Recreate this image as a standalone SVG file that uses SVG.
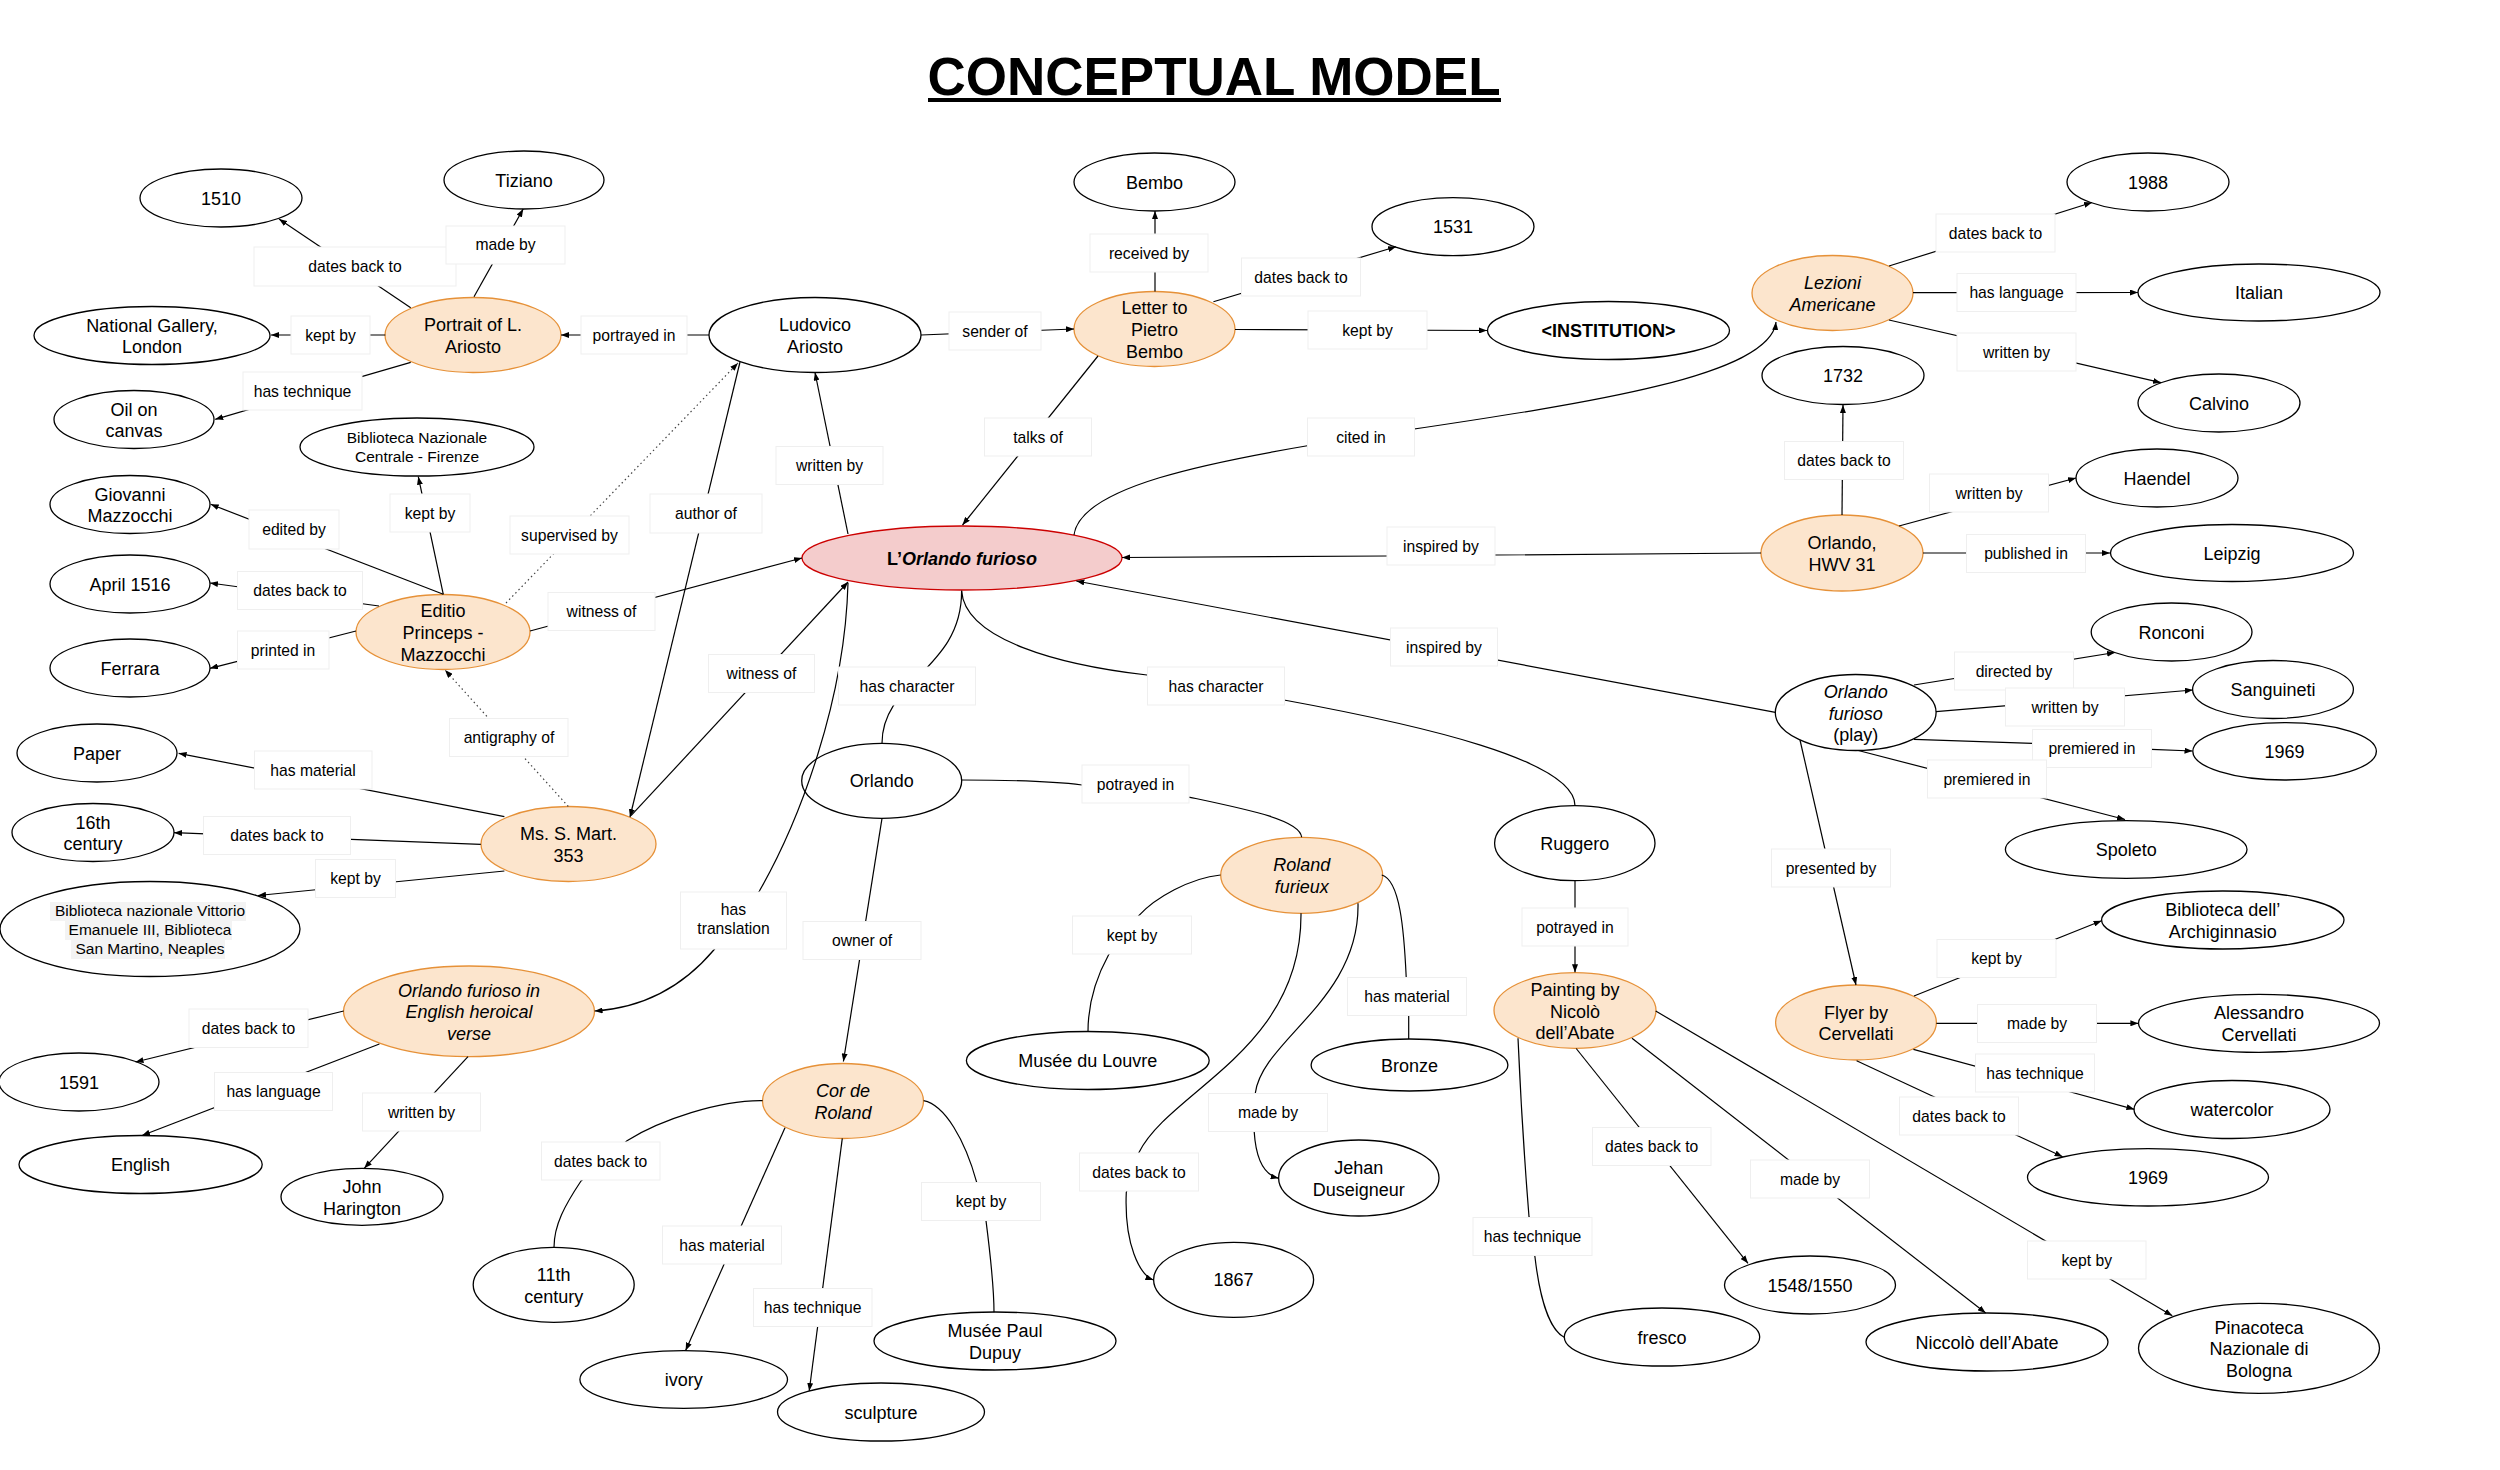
<svg xmlns="http://www.w3.org/2000/svg" width="2500" height="1470" viewBox="0 0 2500 1470">
<defs>
<style>
text{font-family:"Liberation Sans",Arial,sans-serif;fill:#000}
.node ellipse{fill:#fff;stroke:#000;stroke-width:1.3}
.node.o ellipse{fill:#fce5cd;stroke:#e69138}
.node.r ellipse{fill:#f4cccc;stroke:#cc0000}
.node text{font-size:18px;text-anchor:middle}
.node text.s{font-size:15.5px}
.it{font-style:italic}
.lb rect{fill:#fff;stroke:#efefef;stroke-width:1}
.lb text{font-size:15.7px;text-anchor:middle}
#connectors path{fill:none;stroke:#000;stroke-width:1.2}
#connectors path.a{marker-end:url(#ah)}
#connectors path.d{stroke:#444;stroke-dasharray:1.5 3}
</style>
<marker id="ah" viewBox="0 0 8 6" refX="8" refY="3" markerWidth="8" markerHeight="6" markerUnits="userSpaceOnUse" orient="auto"><path d="M0,0 L8,3 L0,6 z" fill="#000"/></marker>
</defs>
<rect width="2500" height="1470" fill="#fff"/>
<g id="title">
<text x="1214" y="95" font-size="53" font-weight="bold" text-anchor="middle">CONCEPTUAL MODEL</text>
<rect x="928" y="98" width="573" height="4" fill="#000"/>
</g>
<g id="nodes">
<g id="n-1510" class="node"><ellipse cx="221" cy="198" rx="81" ry="29"/><text x="221" y="204.5">1510</text></g>
<g id="n-tiziano" class="node"><ellipse cx="524" cy="180" rx="80" ry="29"/><text x="524" y="186.5">Tiziano</text></g>
<g id="n-portrait" class="node o"><ellipse cx="473" cy="335" rx="88" ry="37.5"/><text x="473" y="331">Portrait of L.</text><text x="473" y="352.7">Ariosto</text></g>
<g id="n-natgallery" class="node"><ellipse cx="152" cy="335.5" rx="118" ry="29"/><text x="152" y="331.5">National Gallery,</text><text x="152" y="353.2">London</text></g>
<g id="n-oil" class="node"><ellipse cx="134" cy="419.5" rx="80" ry="29"/><text x="134" y="415.5">Oil on</text><text x="134" y="437.2">canvas</text></g>
<g id="n-bnc" class="node"><ellipse cx="417" cy="447" rx="117" ry="29"/><text class="s" x="417" y="443.3">Biblioteca Nazionale</text><text class="s" x="417" y="462.3">Centrale - Firenze</text></g>
<g id="n-giovanni" class="node"><ellipse cx="130" cy="504.5" rx="80" ry="29"/><text x="130" y="500.5">Giovanni</text><text x="130" y="522.2">Mazzocchi</text></g>
<g id="n-april1516" class="node"><ellipse cx="130" cy="584" rx="80" ry="29"/><text x="130" y="590.5">April 1516</text></g>
<g id="n-editio" class="node o"><ellipse cx="443" cy="632" rx="87" ry="37.5"/><text x="443" y="617.3">Editio</text><text x="443" y="639">Princeps -</text><text x="443" y="660.7">Mazzocchi</text></g>
<g id="n-ferrara" class="node"><ellipse cx="130" cy="668" rx="80" ry="29"/><text x="130" y="674.5">Ferrara</text></g>
<g id="n-paper" class="node"><ellipse cx="97" cy="753" rx="80" ry="29"/><text x="97" y="759.5">Paper</text></g>
<g id="n-16th" class="node"><ellipse cx="93" cy="832.5" rx="81" ry="29"/><text x="93" y="828.5">16th</text><text x="93" y="850.2">century</text></g>
<g id="n-vittorio" class="node"><ellipse cx="150" cy="929" rx="150" ry="47.5"/><rect x="50" y="902" width="196" height="19" fill="#f3f3f3"/><rect x="65" y="921" width="167" height="19" fill="#f3f3f3"/><rect x="71" y="940" width="154" height="19" fill="#f3f3f3"/><text class="s" x="150" y="916">Biblioteca nazionale Vittorio</text><text class="s" x="150" y="935">Emanuele III, Biblioteca</text><text class="s" x="150" y="954">San Martino, Neaples</text></g>
<g id="n-ms" class="node o"><ellipse cx="568.5" cy="844" rx="87.5" ry="37.5"/><text x="568.5" y="840">Ms. S. Mart.</text><text x="568.5" y="861.7">353</text></g>
<g id="n-ludovico" class="node"><ellipse cx="815" cy="335" rx="106" ry="37.5"/><text x="815" y="331">Ludovico</text><text x="815" y="352.7">Ariosto</text></g>
<g id="n-bembo" class="node"><ellipse cx="1154.5" cy="182" rx="80.5" ry="29"/><text x="1154.5" y="188.5">Bembo</text></g>
<g id="n-letter" class="node o"><ellipse cx="1154.5" cy="329" rx="80.5" ry="37.5"/><text x="1154.5" y="314.3">Letter to</text><text x="1154.5" y="336">Pietro</text><text x="1154.5" y="357.7">Bembo</text></g>
<g id="n-1531" class="node"><ellipse cx="1453" cy="226.7" rx="81" ry="29"/><text x="1453" y="233.2">1531</text></g>
<g id="n-institution" class="node"><ellipse cx="1608.5" cy="330.5" rx="121" ry="29"/><text x="1608.5" y="337" font-weight="bold">&lt;INSTITUTION&gt;</text></g>
<g id="n-orlandofurioso" class="node r"><ellipse cx="962" cy="558" rx="160" ry="32"/><text x="962" y="564.5" font-weight="bold">L’<tspan class="it">Orlando furioso</tspan></text></g>
<g id="n-lezioni" class="node o"><ellipse cx="1832.5" cy="293" rx="80.5" ry="37.5"/><text class="it" x="1832.5" y="289">Lezioni</text><text class="it" x="1832.5" y="310.7">Americane</text></g>
<g id="n-1988" class="node"><ellipse cx="2148" cy="182" rx="81" ry="29"/><text x="2148" y="188.5">1988</text></g>
<g id="n-italian" class="node"><ellipse cx="2259" cy="292.5" rx="121" ry="28.5"/><text x="2259" y="299">Italian</text></g>
<g id="n-calvino" class="node"><ellipse cx="2219" cy="403" rx="81" ry="29"/><text x="2219" y="409.5">Calvino</text></g>
<g id="n-1732" class="node"><ellipse cx="1843" cy="375.5" rx="81" ry="29"/><text x="1843" y="382">1732</text></g>
<g id="n-haendel" class="node"><ellipse cx="2157" cy="478" rx="81" ry="29"/><text x="2157" y="484.5">Haendel</text></g>
<g id="n-hwv" class="node o"><ellipse cx="1842" cy="553" rx="81" ry="38"/><text x="1842" y="549">Orlando,</text><text x="1842" y="570.7">HWV 31</text></g>
<g id="n-leipzig" class="node"><ellipse cx="2232" cy="553" rx="121.5" ry="28.5"/><text x="2232" y="559.5">Leipzig</text></g>
<g id="n-ronconi" class="node"><ellipse cx="2171.6" cy="632" rx="80.4" ry="29"/><text x="2171.6" y="638.5">Ronconi</text></g>
<g id="n-sanguineti" class="node"><ellipse cx="2273" cy="689.5" rx="80.4" ry="29"/><text x="2273" y="696">Sanguineti</text></g>
<g id="n-play" class="node"><ellipse cx="1855.7" cy="712.5" rx="80.4" ry="38"/><text class="it" x="1855.7" y="697.8">Orlando</text><text class="it" x="1855.7" y="719.5">furioso</text><text x="1855.7" y="741.2">(play)</text></g>
<g id="n-1969play" class="node"><ellipse cx="2284.6" cy="751.3" rx="91.8" ry="28.7"/><text x="2284.6" y="757.8">1969</text></g>
<g id="n-spoleto" class="node"><ellipse cx="2126.2" cy="849.5" rx="120.8" ry="28.8"/><text x="2126.2" y="856">Spoleto</text></g>
<g id="n-orlando" class="node"><ellipse cx="881.7" cy="780.8" rx="80" ry="37.5"/><text x="881.7" y="787.3">Orlando</text></g>
<g id="n-ruggero" class="node"><ellipse cx="1574.8" cy="843.2" rx="80.2" ry="37.5"/><text x="1574.8" y="849.7">Ruggero</text></g>
<g id="n-roland" class="node o"><ellipse cx="1301.7" cy="875.3" rx="81" ry="38"/><text class="it" x="1301.7" y="871.3">Roland</text><text class="it" x="1301.7" y="893">furieux</text></g>
<g id="n-archiginnasio" class="node"><ellipse cx="2222.8" cy="920" rx="121.2" ry="29"/><text x="2222.8" y="916">Biblioteca dell’</text><text x="2222.8" y="937.7">Archiginnasio</text></g>
<g id="n-flyer" class="node o"><ellipse cx="1856" cy="1022.5" rx="80.4" ry="37.5"/><text x="1856" y="1018.5">Flyer by</text><text x="1856" y="1040.2">Cervellati</text></g>
<g id="n-alessandro" class="node"><ellipse cx="2259" cy="1023.3" rx="120.5" ry="29"/><text x="2259" y="1019.3">Alessandro</text><text x="2259" y="1041">Cervellati</text></g>
<g id="n-watercolor" class="node"><ellipse cx="2232" cy="1109.5" rx="98" ry="29"/><text x="2232" y="1116">watercolor</text></g>
<g id="n-1969flyer" class="node"><ellipse cx="2148" cy="1177.3" rx="120.5" ry="28.7"/><text x="2148" y="1183.8">1969</text></g>
<g id="n-painting" class="node o"><ellipse cx="1575" cy="1010.5" rx="81" ry="37.8"/><text x="1575" y="995.8">Painting by</text><text x="1575" y="1017.5">Nicolò</text><text x="1575" y="1039.2">dell’Abate</text></g>
<g id="n-bronze" class="node"><ellipse cx="1409.5" cy="1065" rx="98.4" ry="26"/><text x="1409.5" y="1071.5">Bronze</text></g>
<g id="n-louvre" class="node"><ellipse cx="1087.8" cy="1060.5" rx="121.4" ry="29"/><text x="1087.8" y="1067">Musée du Louvre</text></g>
<g id="n-english-verse" class="node o"><ellipse cx="469" cy="1011.3" rx="125.5" ry="45.3"/><text class="it" x="469" y="996.6">Orlando furioso in</text><text class="it" x="469" y="1018.3">English heroical</text><text class="it" x="469" y="1040">verse</text></g>
<g id="n-1591" class="node"><ellipse cx="79" cy="1082" rx="80" ry="29"/><text x="79" y="1088.5">1591</text></g>
<g id="n-english" class="node"><ellipse cx="140.6" cy="1164.5" rx="121.6" ry="29"/><text x="140.6" y="1171">English</text></g>
<g id="n-harington" class="node"><ellipse cx="362" cy="1196.8" rx="81" ry="28.5"/><text x="362" y="1192.8">John</text><text x="362" y="1214.5">Harington</text></g>
<g id="n-cor" class="node o"><ellipse cx="843" cy="1101" rx="80.5" ry="37.5"/><text class="it" x="843" y="1097">Cor de</text><text class="it" x="843" y="1118.7">Roland</text></g>
<g id="n-11th" class="node"><ellipse cx="553.7" cy="1284.8" rx="80.5" ry="37.5"/><text x="553.7" y="1280.8">11th</text><text x="553.7" y="1302.5">century</text></g>
<g id="n-ivory" class="node"><ellipse cx="683.7" cy="1379.5" rx="103.8" ry="28.8"/><text x="683.7" y="1386">ivory</text></g>
<g id="n-sculpture" class="node"><ellipse cx="881" cy="1412" rx="103.5" ry="29"/><text x="881" y="1418.5">sculpture</text></g>
<g id="n-dupuy" class="node"><ellipse cx="995" cy="1341" rx="121" ry="29"/><text x="995" y="1337">Musée Paul</text><text x="995" y="1358.7">Dupuy</text></g>
<g id="n-1867" class="node"><ellipse cx="1233.6" cy="1279.8" rx="80" ry="37.5"/><text x="1233.6" y="1286.3">1867</text></g>
<g id="n-jehan" class="node"><ellipse cx="1358.8" cy="1178" rx="80.2" ry="38"/><text x="1358.8" y="1174">Jehan</text><text x="1358.8" y="1195.7">Duseigneur</text></g>
<g id="n-fresco" class="node"><ellipse cx="1662" cy="1337" rx="97.7" ry="29"/><text x="1662" y="1343.5">fresco</text></g>
<g id="n-1548" class="node"><ellipse cx="1810" cy="1285" rx="85.5" ry="29"/><text x="1810" y="1291.5">1548/1550</text></g>
<g id="n-niccolo" class="node"><ellipse cx="1987" cy="1342" rx="121" ry="29"/><text x="1987" y="1348.5">Niccolò dell’Abate</text></g>
<g id="n-pinacoteca" class="node"><ellipse cx="2259" cy="1348.3" rx="120.5" ry="45"/><text x="2259" y="1333.6">Pinacoteca</text><text x="2259" y="1355.3">Nazionale di</text><text x="2259" y="1377">Bologna</text></g>
</g>
<g id="connectors">
<path class="a" d="M410.7,307.7 L279,219"/>
<path class="a" d="M474,296.7 L523.2,209"/>
<path class="a" d="M385.3,335 L271,335"/>
<path class="a" d="M709,335 L561,335"/>
<path class="a" d="M410.7,362.3 L215.2,419.3"/>
<path class="a" d="M443.3,594.3 L418.3,476.7"/>
<path class="a" d="M443.3,594.3 L210.7,504.3"/>
<path class="a d" d="M506,603 L738,363"/>
<path class="a" d="M740,362 L630,817"/>
<path class="a" d="M848,534 L815,372.5"/>
<path class="a" d="M921,335 L1074,329"/>
<path class="a" d="M1155,291.5 L1155,211"/>
<path class="a" d="M1213.4,301.7 L1396,246.7"/>
<path class="a" d="M1235,329.5 L1487,330.5"/>
<path class="a" d="M1098,356 L962.5,525"/>
<path class="a" d="M1074,535 C1080,488 1200,462 1361,437 C1560,407 1770,380 1776,322"/>
<path class="a" d="M1889,266 L2092,202.5"/>
<path class="a" d="M1913,292.6 L2138,292.5"/>
<path class="a" d="M1889,320 L2161,382.7"/>
<path class="a" d="M1842,515 L1843,405"/>
<path class="a" d="M1899,526 L2076,478"/>
<path class="a" d="M1923,553 L2110,553"/>
<path class="a" d="M1761,553 L1495,555 L1387,556 L1122,557.5"/>
<path class="a" d="M1775.4,712.3 L1076.3,581"/>
<path class="a" d="M1914,685 L2115,652.5"/>
<path class="a" d="M1936,711.7 L2192.8,690"/>
<path class="a" d="M1914,739.3 L2032.4,743.3 L2151.3,749.3 L2192.5,751"/>
<path class="a" d="M1858.3,750.5 L2125,819.5"/>
<path class="a" d="M1800,740 L1856,985"/>
<path class="a" d="M1914,996 L2101.6,920.7"/>
<path class="a" d="M1936.4,1023.3 L2138.4,1023.3"/>
<path class="a" d="M1913.4,1049.3 L2134.4,1109.3"/>
<path class="a" d="M1856.6,1060.7 L2062.6,1156.7"/>
<path class="a" d="M379,606 L210,583"/>
<path class="a" d="M356,631 L210,668.3"/>
<path class="a" d="M530,631 L802,558"/>
<path class="a d" d="M568.3,806.5 L445,670"/>
<path class="a" d="M504.4,816.7 L178.6,753.3"/>
<path class="a" d="M480.8,844.3 L174,832.7"/>
<path class="a" d="M504.4,871 L258,895.5"/>
<path class="a" d="M631,815.7 L848,582"/>
<path d="M961.6,590.7 C962,670 882,680 882,743.3"/>
<path d="M961.6,590.7 C965,640 1060,665 1147,675 L1284,700 C1420,725 1575,760 1575,805.7"/>
<path d="M961.6,780 C1000,780 1050,781 1082,785 L1190,797.3 C1250,810 1300,820 1301.7,837.3"/>
<path class="a" d="M882,818.3 L843.4,1061.5"/>
<path class="a" d="M848,583 C845,700 800,820 759.4,891 L713.8,950 C680,990 640,1008 594.6,1011"/>
<path d="M1220.5,875 C1190,878 1155,898 1138.8,915.7 L1108.5,955 C1092,985 1088,1010 1088,1031.7"/>
<path d="M1381.7,875 C1400,880 1404,930 1406.2,977 L1408.7,1016 L1408.7,1039"/>
<path class="a" d="M1301,913.3 C1302,1050 1170,1090 1138.8,1152.7 L1126.3,1192.3 C1124,1245 1140,1275 1153.4,1280"/>
<path class="a" d="M1358,903.3 C1360,1000 1262,1040 1255.3,1093.3 L1254.2,1131.7 C1256,1160 1265,1175 1278.6,1178.3"/>
<path class="a" d="M1575,880.7 L1575,972.3"/>
<path d="M762.6,1100.7 C720,1100 660,1120 627,1140.7 L581,1181 C565,1205 554,1225 554,1247.3"/>
<path class="a" d="M785,1127.7 L685.6,1350.5"/>
<path class="a" d="M842.3,1138.3 L809.2,1391"/>
<path d="M923.6,1100.7 C945,1105 965,1140 976.7,1182.3 L986,1220.7 C991,1260 994,1290 994,1312.3"/>
<path class="a" d="M343.7,1011 L135.5,1062"/>
<path class="a" d="M379.4,1044 L142,1135.5"/>
<path class="a" d="M468,1056.6 L364.2,1168.3"/>
<path d="M1518,1038.3 Q1522,1130 1529,1216.7 L1535,1257.3 C1540,1300 1550,1330 1564.2,1337.3"/>
<path class="a" d="M1576.2,1048.5 L1748,1263.3"/>
<path class="a" d="M1632,1038.3 L1985.7,1313"/>
<path class="a" d="M1655.7,1011 L2172.3,1315.7"/>
</g>
<g id="edge-labels">
<g class="lb"><rect x="254" y="247" width="202" height="39"/><text x="355" y="272">dates back to</text></g>
<g class="lb"><rect x="446" y="226" width="119" height="38"/><text x="505.5" y="250">made by</text></g>
<g class="lb"><rect x="291" y="316" width="79" height="38"/><text x="330.5" y="340.5">kept by</text></g>
<g class="lb"><rect x="581" y="316" width="106" height="38"/><text x="634" y="340.5">portrayed in</text></g>
<g class="lb"><rect x="243" y="372" width="119" height="38"/><text x="302.5" y="396.5">has technique</text></g>
<g class="lb"><rect x="390" y="494" width="80" height="38"/><text x="430" y="518.5">kept by</text></g>
<g class="lb"><rect x="249" y="510" width="90" height="39"/><text x="294" y="535">edited by</text></g>
<g class="lb"><rect x="510" y="516" width="119" height="38"/><text x="569.5" y="540.5">supervised by</text></g>
<g class="lb"><rect x="650" y="494" width="112" height="39"/><text x="706" y="519">author of</text></g>
<g class="lb"><rect x="776" y="446.5" width="107" height="38"/><text x="829.5" y="471">written by</text></g>
<g class="lb"><rect x="949" y="312" width="92" height="38"/><text x="995" y="336.5">sender of</text></g>
<g class="lb"><rect x="1090" y="234" width="118" height="38"/><text x="1149" y="258.5">received by</text></g>
<g class="lb"><rect x="1241.5" y="258" width="119" height="38"/><text x="1301" y="282.5">dates back to</text></g>
<g class="lb"><rect x="1308" y="311" width="119" height="38"/><text x="1367.5" y="335.5">kept by</text></g>
<g class="lb"><rect x="984.5" y="418" width="107" height="38"/><text x="1038" y="442.5">talks of</text></g>
<g class="lb"><rect x="1307.5" y="418" width="107" height="38"/><text x="1361" y="442.5">cited in</text></g>
<g class="lb"><rect x="1936" y="214" width="119" height="38"/><text x="1995.5" y="238.5">dates back to</text></g>
<g class="lb"><rect x="1957" y="273.5" width="119" height="38"/><text x="2016.5" y="298">has language</text></g>
<g class="lb"><rect x="1957" y="333" width="119" height="38"/><text x="2016.5" y="357.5">written by</text></g>
<g class="lb"><rect x="1784.5" y="441.5" width="119" height="38"/><text x="1844" y="466">dates back to</text></g>
<g class="lb"><rect x="1929.5" y="474" width="119" height="38"/><text x="1989" y="498.5">written by</text></g>
<g class="lb"><rect x="1966.5" y="534.5" width="119" height="38"/><text x="2026" y="559">published in</text></g>
<g class="lb"><rect x="1387" y="527" width="108" height="38"/><text x="1441" y="551.5">inspired by</text></g>
<g class="lb"><rect x="1390.5" y="628" width="107" height="38"/><text x="1444" y="652.5">inspired by</text></g>
<g class="lb"><rect x="1954.5" y="652" width="119" height="38"/><text x="2014" y="676.5">directed by</text></g>
<g class="lb"><rect x="2005.5" y="688" width="119" height="38"/><text x="2065" y="712.5">written by</text></g>
<g class="lb"><rect x="2032.5" y="729.5" width="119" height="38"/><text x="2092" y="754">premiered in</text></g>
<g class="lb"><rect x="1927.5" y="760" width="119" height="38"/><text x="1987" y="784.5">premiered in</text></g>
<g class="lb"><rect x="1771.5" y="849" width="119" height="38"/><text x="1831" y="873.5">presented by</text></g>
<g class="lb"><rect x="1937" y="939.5" width="119" height="38"/><text x="1996.5" y="964">kept by</text></g>
<g class="lb"><rect x="1977.5" y="1004.5" width="119" height="38"/><text x="2037" y="1029">made by</text></g>
<g class="lb"><rect x="1975.5" y="1054" width="119" height="38"/><text x="2035" y="1078.5">has technique</text></g>
<g class="lb"><rect x="1899.5" y="1097" width="119" height="38"/><text x="1959" y="1121.5">dates back to</text></g>
<g class="lb"><rect x="237.5" y="571.5" width="125" height="38"/><text x="300" y="596">dates back to</text></g>
<g class="lb"><rect x="237.5" y="631" width="91.5" height="38"/><text x="283" y="655.5">printed in</text></g>
<g class="lb"><rect x="548" y="592.5" width="107" height="38"/><text x="601.5" y="617">witness of</text></g>
<g class="lb"><rect x="449.5" y="718.5" width="118.5" height="38"/><text x="509" y="743">antigraphy of</text></g>
<g class="lb"><rect x="254.5" y="751" width="117.5" height="38"/><text x="313" y="775.5">has material</text></g>
<g class="lb"><rect x="203.5" y="816.5" width="147" height="38"/><text x="277" y="841">dates back to</text></g>
<g class="lb"><rect x="315.5" y="859.5" width="80" height="38"/><text x="355.5" y="884">kept by</text></g>
<g class="lb"><rect x="708.5" y="654.5" width="106" height="38"/><text x="761.5" y="679">witness of</text></g>
<g class="lb"><rect x="838.5" y="667" width="137" height="38"/><text x="907" y="691.5">has character</text></g>
<g class="lb"><rect x="1147.5" y="667" width="137" height="38"/><text x="1216" y="691.5">has character</text></g>
<g class="lb"><rect x="1082" y="765" width="107" height="38"/><text x="1135.5" y="789.5">potrayed in</text></g>
<g class="lb"><rect x="680.5" y="892" width="106" height="57"/><text x="733.5" y="915">has</text><text x="733.5" y="934">translation</text></g>
<g class="lb"><rect x="803" y="921.5" width="118" height="38"/><text x="862" y="946">owner of</text></g>
<g class="lb"><rect x="1072.5" y="916" width="119" height="38"/><text x="1132" y="940.5">kept by</text></g>
<g class="lb"><rect x="1347.5" y="977.5" width="119" height="38"/><text x="1407" y="1002">has material</text></g>
<g class="lb"><rect x="1522" y="908" width="106" height="38"/><text x="1575" y="932.5">potrayed in</text></g>
<g class="lb"><rect x="1208.5" y="1093.5" width="119" height="38"/><text x="1268" y="1118">made by</text></g>
<g class="lb"><rect x="1079.5" y="1153" width="119" height="38"/><text x="1139" y="1177.5">dates back to</text></g>
<g class="lb"><rect x="189" y="1009" width="119" height="38.5"/><text x="248.5" y="1033.8">dates back to</text></g>
<g class="lb"><rect x="214.5" y="1072.5" width="118" height="38"/><text x="273.5" y="1097">has language</text></g>
<g class="lb"><rect x="362.5" y="1093" width="118" height="38"/><text x="421.5" y="1117.5">written by</text></g>
<g class="lb"><rect x="541.5" y="1142" width="118.5" height="38"/><text x="600.7" y="1166.5">dates back to</text></g>
<g class="lb"><rect x="662.5" y="1226" width="119" height="38"/><text x="722" y="1250.5">has material</text></g>
<g class="lb"><rect x="753.5" y="1288.5" width="118.5" height="38"/><text x="812.7" y="1313">has technique</text></g>
<g class="lb"><rect x="921.5" y="1182.5" width="119" height="38"/><text x="981" y="1207">kept by</text></g>
<g class="lb"><rect x="1473" y="1217.5" width="119" height="38"/><text x="1532.5" y="1242">has technique</text></g>
<g class="lb"><rect x="1592.5" y="1127.5" width="118.5" height="38"/><text x="1651.7" y="1152">dates back to</text></g>
<g class="lb"><rect x="1750.5" y="1160" width="119" height="38"/><text x="1810" y="1184.5">made by</text></g>
<g class="lb"><rect x="2027.5" y="1241" width="118.5" height="38"/><text x="2086.8" y="1265.5">kept by</text></g>
</g>
</svg>
